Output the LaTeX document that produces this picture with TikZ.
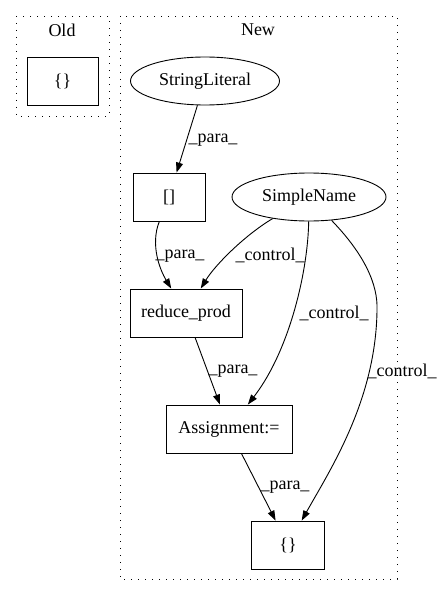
\documentclass[tikz,border=0pt]{standalone}
\usepackage{fontspec}
\setmainfont{Liberation Serif}
\usetikzlibrary{arrows.meta,shapes.geometric}
\begin{document}
\begin{tikzpicture}[x=1pt,y=-1pt,
  every node/.style={font=\fontsize{18}{20}\selectfont},
  cluster/.style={draw,line width=0.9pt,dash pattern=on 1.3pt off 5.7pt},
  box/.style={draw,line width=0.9pt,rectangle,inner sep=0pt,minimum height=48pt},
  oval/.style={draw,line width=0.9pt,ellipse,inner sep=0pt,minimum height=48pt},
  edge/.style={draw,line width=0.9pt,-{Triangle[length=10pt,width=7pt]}},
  lbl/.style={inner sep=0pt}]
\useasboundingbox (0,0) rectangle (441,596);
% clusters
\draw[cluster] (16,16) rectangle (109,116);
\draw[cluster] (120,16) rectangle (397,579);
\node (toldt) at (62,30) {Old};
\node (tnewt) at (258,30) {New};
% nodes
\node[box,minimum width=71pt] (old) at (62.5,81) {\{\}};
\node[oval,minimum width=149pt] (sl) at (205,81) {StringLiteral};
\node[box,minimum width=72pt] (br) at (169,197) {[]};
\node[oval,minimum width=154pt] (sn) at (309,197) {SimpleName};
\node[box,minimum width=112pt] (rp) at (186,313) {reduce\_prod};
\node[box,minimum width=126pt] (as) at (229,429) {Assignment:=};
\node[box,minimum width=73pt] (bx) at (288,545) {\{\}};
% edges
\draw[edge] (sl) -- (br);
\draw[edge] (br) .. controls (150,245) and (160,270) .. (rp);
\draw[edge] (sn) .. controls (245,235) and (215,265) .. (rp);
\draw[edge] (sn) .. controls (308,270) and (290,350) .. (as);
\coordinate (mid) at (377,310);
\draw[edge] (sn) .. controls (365,255) and (378,285) .. (mid) .. controls (376,400) and (330,470) .. (bx);
\draw[edge] (rp) -- (as);
\draw[edge] (as) -- (bx);
% labels
\node[lbl] (l1) at (213,140) {\_para\_};
\node[lbl] (l2) at (180,256) {\_para\_};
\node[lbl] (l3) at (270,255) {\_control\_};
\node[lbl] (l4) at (334,313) {\_control\_};
\node[lbl] (l5) at (402,371) {\_control\_};
\node[lbl] (l6) at (233,371) {\_para\_};
\node[lbl] (l7) at (285,487) {\_para\_};
\end{tikzpicture}
\end{document}
